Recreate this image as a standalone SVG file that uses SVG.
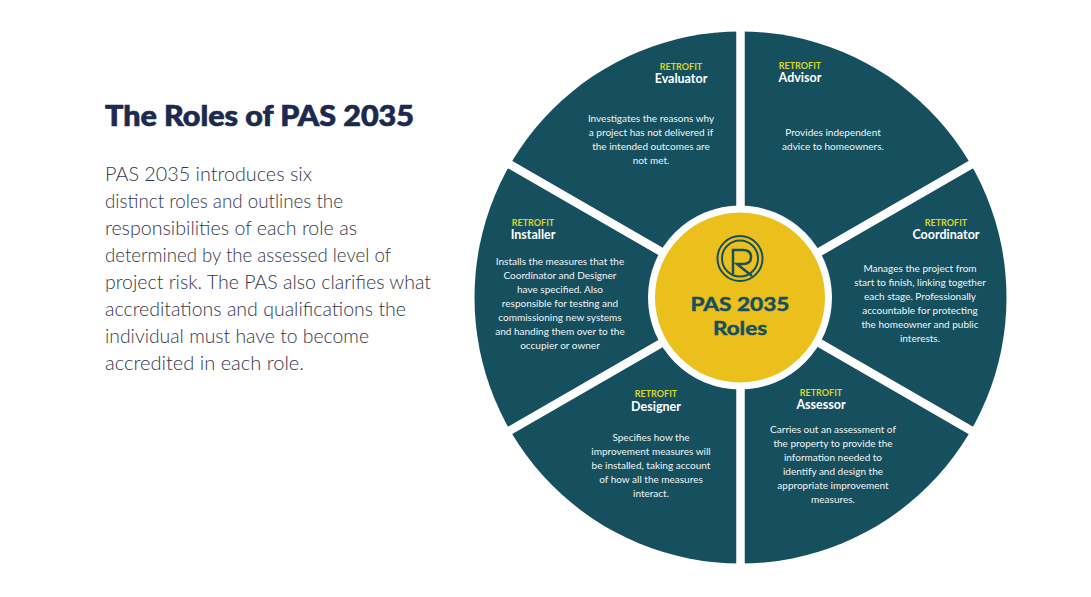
<svg xmlns="http://www.w3.org/2000/svg" width="1091" height="597" viewBox="0 0 1091 597">
<style>
text{font-family:"Lato","Liberation Sans",sans-serif}
.title{font-size:29px;font-weight:900;fill:#1b2a4e;stroke:#1b2a4e;stroke-width:.7}
.body{font-size:20.5px;font-weight:300;fill:#33384a}
.wedge{fill:#16505f}
.spoke{stroke:#fff;stroke-width:8.500;fill:none}
.r{font-size:9px;font-weight:700;fill:#d9d52c;text-anchor:middle}
.n{font-size:12.500px;font-weight:700;fill:#fff;text-anchor:middle}
.d{font-size:10px;fill:#f1f5f5;text-anchor:middle}
.c{font-size:19.500px;font-weight:700;fill:#16505f;stroke:#16505f;stroke-width:.5;text-anchor:middle}
</style>
<rect width="1091" height="597" fill="#fff"/>
<g id="heading">
<text class="title" x="105" y="126" textLength="309" lengthAdjust="spacingAndGlyphs">The Roles of PAS 2035</text>
<g class="body">
<text x="105" y="181" textLength="207" lengthAdjust="spacingAndGlyphs">PAS 2035 introduces six</text>
<text x="105" y="208" textLength="238" lengthAdjust="spacingAndGlyphs">distinct roles and outlines the</text>
<text x="105" y="235" textLength="252" lengthAdjust="spacingAndGlyphs">responsibilities of each role as</text>
<text x="105" y="262" textLength="286" lengthAdjust="spacingAndGlyphs">determined by the assessed level of</text>
<text x="105" y="289" textLength="326" lengthAdjust="spacingAndGlyphs">project risk. The PAS also clarifies what</text>
<text x="105" y="316" textLength="301" lengthAdjust="spacingAndGlyphs">accreditations and qualifications the</text>
<text x="105" y="343" textLength="264" lengthAdjust="spacingAndGlyphs">individual must have to become</text>
<text x="105" y="370" textLength="199" lengthAdjust="spacingAndGlyphs">accredited in each role.</text>
</g>
</g>
<g id="wheel">
<circle class="wedge" cx="740.5" cy="297.5" r="266"/>
</g>
<g id="connectors">
<path class="spoke" d="M740.5 20V575M500 158.700L981 436.300M500 436.300L981 158.700"/>
</g>
<g id="evaluator">
<text class="r" x="681" y="70">RETROFIT</text>
<text class="n" x="681" y="83">Evaluator</text>
<text class="d"><tspan x="651" y="122">Investigates the reasons why</tspan><tspan x="651" y="136">a project has not delivered if</tspan><tspan x="651" y="150">the intended outcomes are</tspan><tspan x="651" y="164">not met.</tspan></text>
</g>
<g id="advisor">
<text class="r" x="800" y="69">RETROFIT</text>
<text class="n" x="800" y="82">Advisor</text>
<text class="d"><tspan x="833" y="136">Provides independent</tspan><tspan x="833" y="150">advice to homeowners.</tspan></text>
</g>
<g id="coordinator">
<text class="r" x="946" y="226">RETROFIT</text>
<text class="n" x="946" y="239">Coordinator</text>
<text class="d"><tspan x="920" y="272">Manages the project from</tspan><tspan x="920" y="286">start to finish, linking together</tspan><tspan x="920" y="300">each stage. Professionally</tspan><tspan x="920" y="314">accountable for protecting</tspan><tspan x="920" y="328">the homeowner and public</tspan><tspan x="920" y="342">interests.</tspan></text>
</g>
<g id="assessor">
<text class="r" x="821" y="396">RETROFIT</text>
<text class="n" x="821" y="409">Assessor</text>
<text class="d"><tspan x="833" y="433">Carries out an assessment of</tspan><tspan x="833" y="447">the property to provide the</tspan><tspan x="833" y="461">information needed to</tspan><tspan x="833" y="475">identify and design the</tspan><tspan x="833" y="489">appropriate improvement</tspan><tspan x="833" y="503">measures.</tspan></text>
</g>
<g id="designer">
<text class="r" x="656" y="397">RETROFIT</text>
<text class="n" x="656" y="411">Designer</text>
<text class="d"><tspan x="651" y="441">Specifies how the</tspan><tspan x="651" y="455">improvement measures will</tspan><tspan x="651" y="469">be installed, taking account</tspan><tspan x="651" y="483">of how all the measures</tspan><tspan x="651" y="497">interact.</tspan></text>
</g>
<g id="installer">
<text class="r" x="533" y="226">RETROFIT</text>
<text class="n" x="533" y="239">Installer</text>
<text class="d"><tspan x="560" y="265">Installs the measures that the</tspan><tspan x="560" y="279">Coordinator and Designer</tspan><tspan x="560" y="293">have specified. Also</tspan><tspan x="560" y="307">responsible for testing and</tspan><tspan x="560" y="321">commissioning new systems</tspan><tspan x="560" y="335">and handing them over to the</tspan><tspan x="560" y="349">occupier or owner</tspan></text>
</g>
<g id="centre">
<circle cx="740" cy="297.500" r="92" fill="#fff"/>
<circle cx="740" cy="297.500" r="85" fill="#ecc01c"/>
<circle cx="740" cy="258.500" r="22.500" fill="none" stroke="#16505f" stroke-width="2"/>
<circle cx="740" cy="258.500" r="18" fill="none" stroke="#16505f" stroke-width="2"/>
<path d="M733 274V250H743Q751 250 751 257T743 264H737L752 276" fill="none" stroke="#16505f" stroke-width="2.500"/>
<text class="c" x="740" y="311" textLength="99" lengthAdjust="spacingAndGlyphs">PAS 2035</text>
<text class="c" x="740" y="335" textLength="54" lengthAdjust="spacingAndGlyphs">Roles</text>
</g>
</svg>
